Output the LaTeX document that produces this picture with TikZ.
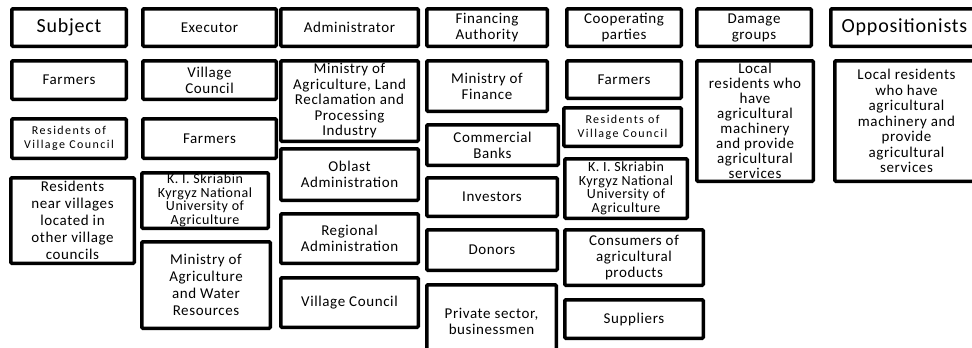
\documentclass[tikz,border=0pt]{standalone}
\usepackage{fontspec}
\setmainfont{Carlito}[LetterSpace=4]
\usepackage{tikz}

\begin{document}
\begin{tikzpicture}[x=1pt, y=-1pt,
	cell/.style={draw, line width=3.5pt, rounded corners=1pt, rectangle, align=center, inner sep=0pt, font=\fontsize{15}{16}\selectfont},
	headcell/.style={cell, font=\fontsize{20}{22}\selectfont},
	smallcell/.style={cell, font=\fontsize{12}{14}\selectfont\addfontfeatures{LetterSpace=12}}]
	\useasboundingbox (0,0) rectangle (972,348);
	\clip (0,0) rectangle (972,348);
	\fill[white] (0,0) rectangle (972,348);
	\node[headcell, minimum width=114.5pt, minimum height=37.5pt] (subject) at (69,27.5) {Subject};
	\node[cell, minimum width=114.5pt, minimum height=38.5pt] (farmers) at (69,80) {Farmers};
	\node[smallcell, minimum width=114.5pt, minimum height=39.5pt] (residentsvc) at (69,138.5) {Residents of\\Village Council};
	\node[cell, minimum width=123.5pt, minimum height=85.5pt, font=\fontsize{15}{17}\selectfont] (residentsnear) at (72.5,220.5) {Residents\\near villages\\located in\\other village\\councils};
	\node[cell, minimum width=133.5pt, minimum height=37.5pt] (executor) at (209.5,27.5) {Executor};
	\node[cell, minimum width=133.5pt, minimum height=38.5pt] (villagecouncil) at (209.5,80) {Village\\Council};
	\node[cell, minimum width=133.5pt, minimum height=39.5pt] (farmerstwo) at (209.5,138.5) {Farmers};
	\node[cell, minimum width=126.5pt, minimum height=55.5pt, font=\fontsize{14}{13.5}\selectfont] (skriabin) at (205,200.5) {K. I. Skriabin\\Kyrgyz National\\University of\\Agriculture};
	\node[cell, minimum width=128.5pt, minimum height=86.5pt, font=\fontsize{15}{17}\selectfont] (ministrywater) at (206,285) {Ministry of\\Agriculture\\and Water\\Resources};
	\node[cell, minimum width=137.5pt, minimum height=37.5pt] (administrator) at (349.5,27.5) {Administrator};
	\node[cell, minimum width=137.5pt, minimum height=80.5pt, font=\fontsize{15}{15.5}\selectfont] (ministryland) at (349.5,101) {Ministry of\\Agriculture, Land\\Reclamation and\\Processing\\Industry};
	\node[cell, minimum width=137.5pt, minimum height=51.5pt] (oblast) at (349.5,174.5) {Oblast\\Administration};
	\node[cell, minimum width=137.5pt, minimum height=49.5pt] (regional) at (349.5,238.5) {Regional\\Administration};
	\node[cell, minimum width=137.5pt, minimum height=49.5pt] (villagecouncilthree) at (349.5,302.5) {Village Council};
	\node[cell, minimum width=120.5pt, minimum height=37.5pt] (financing) at (487,27.5) {Financing\\Authority};
	\node[cell, minimum width=120.5pt, minimum height=50.5pt] (ministryfinance) at (487,86) {Ministry of\\Finance};
	\node[cell, minimum width=131.5pt, minimum height=40.5pt] (banks) at (492.5,145) {Commercial\\Banks};
	\node[cell, minimum width=130.5pt, minimum height=38.5pt] (investors) at (492,197) {Investors};
	\node[cell, minimum width=130.5pt, minimum height=40.5pt] (donors) at (492,250) {Donors};
	\node[cell, minimum width=129.5pt, minimum height=73.5pt] (privatesector) at (491.5,321.5) {Private sector,\\businessmen};
	\node[cell, minimum width=114.5pt, minimum height=37.5pt] (cooperating) at (624,27.5) {Cooperating\\parties};
	\node[cell, minimum width=114.5pt, minimum height=37.5pt] (farmersfive) at (624,79.5) {Farmers};
	\node[smallcell, minimum width=117.5pt, minimum height=38.5pt] (residentsvcfive) at (622.5,127) {Residents of\\Village Council};
	\node[cell, minimum width=122.5pt, minimum height=59.5pt, font=\fontsize{14}{13.5}\selectfont] (skriabinfive) at (626,188.5) {K. I. Skriabin\\Kyrgyz National\\University of\\Agriculture};
	\node[cell, minimum width=138.5pt, minimum height=55.5pt] (consumers) at (634,257.5) {Consumers of\\agricultural\\products};
	\node[cell, minimum width=138.5pt, minimum height=38.5pt] (suppliers) at (634,319) {Suppliers};
	\node[cell, minimum width=114.5pt, minimum height=37.5pt] (damage) at (754,27.5) {Damage\\groups};
	\node[cell, minimum width=116.5pt, minimum height=120.5pt, font=\fontsize{15}{15}\selectfont] (localdamage) at (755,121) {Local\\residents who\\have\\agricultural\\machinery\\and provide\\agricultural\\services};
	\node[headcell, minimum width=147.5pt, minimum height=37.5pt] (oppositionists) at (904.5,27.5) {Oppositionists};
	\node[cell, minimum width=143.5pt, minimum height=120.5pt, font=\fontsize{15}{15.5}\selectfont] (localopposition) at (906.5,121) {Local residents\\who have\\agricultural\\machinery and\\provide\\agricultural\\services};
\end{tikzpicture}
\end{document}
